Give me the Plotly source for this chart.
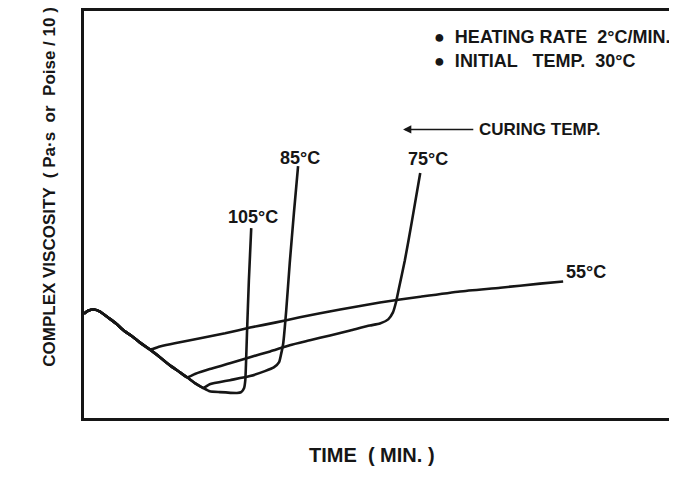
import plotly.graph_objects as go

# Viscosity curves (arbitrary units, time 0-100, viscosity 0-100)
time_common = [0.0, 0.7, 1.7, 2.7, 4.0, 5.4, 6.7, 8.1, 9.4, 11.1]
visc_common = [25.4, 26.1, 26.4, 25.9, 24.5, 23.0, 21.3, 19.9, 18.4, 16.7]

time_descent = [12.8, 14.5, 16.2, 17.4, 18.7, 19.6, 20.1]
visc_descent = [14.8, 12.8, 11.1, 9.9, 8.5, 7.7, 7.3]

time_55 = [12.8, 15.3, 19.6, 23.8, 28.0, 32.2, 36.4, 43.2, 49.9, 56.7, 63.4, 70.2, 76.9, 80.8]
visc_55 = [17.4, 18.2, 19.4, 20.6, 22.0, 23.2, 24.5, 26.4, 28.1, 29.5, 30.8, 31.7, 32.7, 33.2]

time_75 = [18.7, 21.2, 24.6, 28.0, 31.4, 34.7, 38.1, 41.5, 44.9, 48.2, 49.9, 51.3, 52.1, 52.6, 53.1, 54.1, 55.3, 56.7]
visc_75 = [10.7, 11.9, 13.3, 14.8, 16.2, 17.7, 18.9, 20.1, 21.3, 22.5, 23.0, 24.0, 25.7, 28.1, 31.5, 38.3, 47.9, 59.6]

time_85 = [21.2, 24.6, 28.0, 30.5, 32.0, 32.9, 33.2, 33.6, 34.1, 34.7, 35.4, 36.1]
visc_85 = [8.2, 9.2, 10.2, 11.4, 12.3, 13.6, 15.3, 18.2, 26.1, 37.8, 49.9, 61.3]

time_105 = [21.2, 22.9, 25.8, 26.5, 27.0, 27.2, 27.5, 27.8, 28.2]
visc_105 = [6.5, 6.3, 6.1, 6.3, 7.3, 9.2, 21.3, 33.4, 46.2]

curve_labels = ["55°C", "75°C", "85°C", "105°C"]
label_time = [84.7, 58.0, 36.4, 28.5]
label_visc = [35.6, 63.0, 63.2, 48.9]

INK = "#161616"
FONT = "Liberation Sans"

fig = go.Figure()

branches = [
    (time_55, visc_55, False),
    (time_75, visc_75, True),
    (time_85, visc_85, True),
    (time_105, visc_105, True),
]
for t, v, after_descent in branches:
    xs = list(time_common)
    ys = list(visc_common)
    if after_descent:
        # follow the shared descent until this branch leaves it
        for dt, dv in zip(time_descent, visc_descent):
            if dt < t[0]:
                xs.append(dt)
                ys.append(dv)
    xs += t
    ys += v
    fig.add_trace(
        go.Scatter(
            x=xs,
            y=ys,
            mode="lines",
            line=dict(color=INK, width=2.6, shape="spline", smoothing=0.5),
            hoverinfo="skip",
            showlegend=False,
        )
    )

for text, lx, ly in zip(curve_labels, label_time, label_visc):
    fig.add_annotation(
        x=lx, y=ly, text=text, showarrow=False,
        font=dict(family=FONT, size=18, color=INK, weight="bold"),
    )

# curing temp arrow
fig.add_annotation(
    x=53.8, y=70.2, ax=65.9, ay=70.2, axref="x", ayref="y",
    text="", showarrow=True, arrowhead=2, arrowsize=1.1, arrowwidth=1.5,
    arrowcolor=INK,
)
fig.add_annotation(
    x=66.3, y=70.2, text="CURING TEMP.", showarrow=False, xanchor="left",
    font=dict(family=FONT, size=17, color=INK, weight="bold"),
)

fig.add_annotation(
    xref="paper", yref="paper", x=0.595, y=0.966, xanchor="left",
    text="●  HEATING RATE  2°C/MIN.", showarrow=False,
    font=dict(family=FONT, size=18, color=INK, weight="bold"),
)
fig.add_annotation(
    xref="paper", yref="paper", x=0.595, y=0.907, xanchor="left",
    text="●  INITIAL   TEMP.  30°C", showarrow=False,
    font=dict(family=FONT, size=18, color=INK, weight="bold"),
)

# axis titles
fig.add_annotation(
    xref="paper", yref="paper", x=0.492, y=-0.122,
    text="TIME  ( MIN. )", showarrow=False,
    font=dict(family=FONT, size=20, color=INK, weight="bold"),
)
fig.add_annotation(
    xref="paper", yref="paper", x=-0.0786, y=0.567, textangle=-90,
    text="COMPLEX VISCOSITY  ( Pa·s  or  Poise / 10 )", showarrow=False,
    font=dict(family=FONT, size=17, color=INK, weight="bold"),
)

# page body keeps an 8px margin, so the figure is sized to fit the window
fig.update_layout(
    width=661,
    height=462,
    margin=dict(l=76, r=0, t=1, b=52),
    paper_bgcolor="white",
    plot_bgcolor="white",
    xaxis=dict(
        range=[0, 98.65], showgrid=False, zeroline=False, showticklabels=False,
        ticks="", showline=True, linecolor=INK, linewidth=2.5, mirror=True,
    ),
    yaxis=dict(
        range=[0, 99.03], showgrid=False, zeroline=False, showticklabels=False,
        ticks="", showline=True, linecolor=INK, linewidth=3,
    ),
)

fig.write_html("out.html")
